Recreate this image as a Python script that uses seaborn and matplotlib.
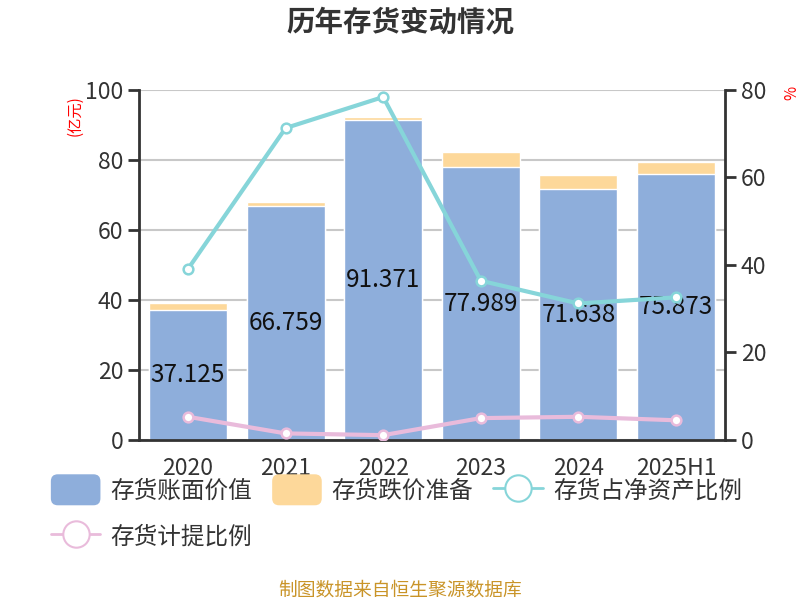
import numpy as np
import pandas as pd
import seaborn as sns
import matplotlib.pyplot as plt
from matplotlib.patches import FancyBboxPatch
from matplotlib.lines import Line2D
from matplotlib.legend_handler import HandlerPatch

# data
years = ["2020", "2021", "2022", "2023", "2024", "2025H1"]
book_value = [37.125, 66.759, 91.371, 77.989, 71.638, 75.873]   # 亿元
reserve = [2.1, 1.1, 1.0, 4.2, 4.0, 3.5]                         # 亿元
ratio_net_assets = [39.1, 71.3, 78.4, 36.4, 31.2, 32.6]          # %
ratio_provision = [5.3, 1.5, 1.1, 5.0, 5.3, 4.5]                 # %

BLUE = "#8eaedb"
YELLOW = "#fdd89a"
CYAN = "#86d5d9"
PINK = "#e9bbdb"

sns.set_theme(style="white")
plt.rcParams['font.family'] = ['Noto Sans CJK SC', 'DejaVu Sans']

df = pd.DataFrame({
    "year": years,
    "book": book_value,
    "total": np.array(book_value) + np.array(reserve),
    "pos": np.arange(len(years)),
    "r1": ratio_net_assets,
    "r2": ratio_provision,
})

fig = plt.figure(figsize=(8, 6), dpi=100)
ax = fig.add_axes([0.174, 0.2667, 0.732, 0.5833])

# stacked look: total in yellow, book value in blue over it
sns.barplot(data=df, x="year", y="total", color=YELLOW, width=0.8,
            saturation=1, ax=ax, zorder=2)
sns.barplot(data=df, x="year", y="book", color=BLUE, width=0.8,
            saturation=1, ax=ax, zorder=2)

for i, v in enumerate(book_value):
    ax.text(i, v / 2, f"{v:.3f}", ha="center", va="center",
            fontsize=17.5, color="#111111", zorder=5)

ax.set_ylim(0, 100)
ax.set_yticks([0, 20, 40, 60, 80, 100])
ax.set_xlim(-0.5, len(years) - 0.5)
ax.yaxis.grid(True, color="#c8c8c8", linewidth=1.5, zorder=0)
ax.set_axisbelow(True)
ax.set_xlabel("")
ax.set_ylabel("")

ax2 = ax.twinx()
sns.lineplot(data=df, x="pos", y="r1", color=CYAN, linewidth=3, ax=ax2,
             marker="o", markersize=7, markerfacecolor="white",
             markeredgecolor=CYAN, markeredgewidth=1.8, zorder=4)
sns.lineplot(data=df, x="pos", y="r2", color=PINK, linewidth=3, ax=ax2,
             marker="o", markersize=7, markerfacecolor="white",
             markeredgecolor=PINK, markeredgewidth=1.8, zorder=4)
ax2.set_ylim(0, 80)
ax2.set_yticks([0, 20, 40, 60, 80])
ax2.set_xlim(-0.5, len(years) - 0.5)
ax2.set_xlabel("")
ax2.set_ylabel("")

# x ticks at category boundaries, labels at centres
ax.set_xticks(np.arange(len(years)))
ax.set_xticklabels(years)
ax.set_xticks(np.arange(-0.5, len(years)), minor=True)
ax.tick_params(axis="x", which="major", length=0, labelsize=16.5,
               labelcolor="#333333", pad=12)
ax.tick_params(axis="x", which="minor", length=8, width=2, color="#333333",
               direction="out")
ax.tick_params(axis="y", length=8, width=2, color="#333333",
               labelsize=16.5, labelcolor="#333333", direction="out")
ax2.tick_params(axis="y", length=8, width=2, color="#333333",
                labelsize=16.5, labelcolor="#333333", direction="out")

for a in (ax, ax2):
    a.spines["top"].set_visible(False)
ax.spines["right"].set_visible(False)
ax2.spines["left"].set_visible(False)
ax.spines["left"].set_color("#333333")
ax.spines["left"].set_linewidth(2)
ax.spines["bottom"].set_color("#333333")
ax.spines["bottom"].set_linewidth(2)
ax2.spines["right"].set_color("#333333")
ax2.spines["right"].set_linewidth(2)
ax2.spines["bottom"].set_visible(False)

# titles and axis units
fig.text(0.5, 0.963, "历年存货变动情况", ha="center", va="center",
         fontsize=20.5, fontweight="bold", color="#333333")
fig.text(0.094, 0.808, "(亿元)", ha="center", va="center", rotation=90,
         fontsize=11, color="red")
fig.text(0.99, 0.845, "%", ha="center", va="center", rotation=90,
         fontsize=11, color="red")
fig.text(0.5, 0.017, "制图数据来自恒生聚源数据库", ha="center", va="center",
         fontsize=13.5, color="#c99428")


class RoundPatchHandler(HandlerPatch):
    def create_artists(self, legend, orig_handle, xdescent, ydescent,
                       width, height, fontsize, trans):
        p = FancyBboxPatch((-xdescent, -ydescent - 3), width, height + 6,
                           boxstyle="round,pad=0,rounding_size=5",
                           facecolor=orig_handle.get_facecolor(),
                           edgecolor="none", transform=trans)
        return [p]


blue_h = FancyBboxPatch((0, 0), 1, 1, facecolor=BLUE)
yellow_h = FancyBboxPatch((0, 0), 1, 1, facecolor=YELLOW)
cyan_h = Line2D([], [], color=CYAN, linewidth=2, marker="o", markersize=19,
                markerfacecolor="white", markeredgecolor=CYAN,
                markeredgewidth=1.5)
pink_h = Line2D([], [], color=PINK, linewidth=2, marker="o", markersize=19,
                markerfacecolor="white", markeredgecolor=PINK,
                markeredgewidth=1.5)

# column-major fill: order so rows read blue, yellow, cyan / pink
handles = [blue_h, pink_h, yellow_h, cyan_h]
labels = ["存货账面价值", "存货计提比例", "存货跌价准备", "存货占净资产比例"]
fig.legend(handles, labels, loc="upper left", bbox_to_anchor=(0.037, 0.238),
           ncol=3, frameon=False, fontsize=17, handlelength=2.1,
           handleheight=1.1, handletextpad=0.42, columnspacing=0.85,
           labelspacing=0.9, labelcolor="#333333",
           handler_map={FancyBboxPatch: RoundPatchHandler()})

fig.savefig("out.png", dpi=100)
